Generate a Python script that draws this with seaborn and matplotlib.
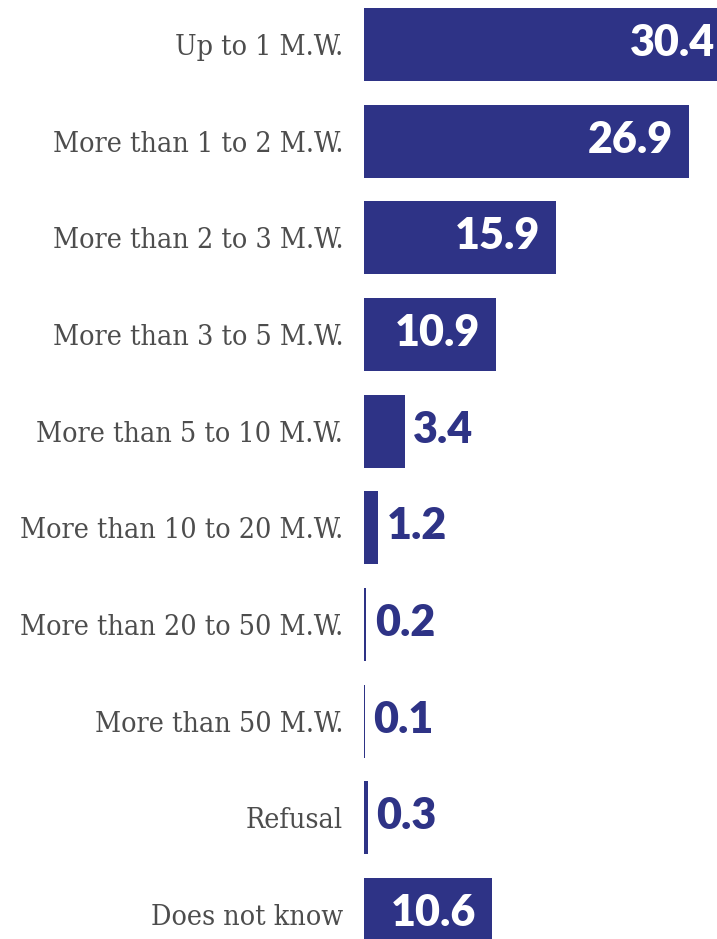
import matplotlib
matplotlib.use("Agg")
import matplotlib.pyplot as plt
import seaborn as sns
import pandas as pd

categories = ["Up to 1 M.W.", "More than 1 to 2 M.W.", "More than 2 to 3 M.W.",
              "More than 3 to 5 M.W.", "More than 5 to 10 M.W.", "More than 10 to 20 M.W.",
              "More than 20 to 50 M.W.", "More than 50 M.W.", "Refusal", "Does not know"]
values = [30.4, 26.9, 15.9, 10.9, 3.4, 1.2, 0.2, 0.1, 0.3, 10.6]
value_labels = ["30.4", "26.9", "15.9", "10.9", "3.4", "1.2", "0.2", "0.1", "0.3", "10.6"]

NAVY = "#2E3386"
GREY = "#4D4D4D"

sns.set_theme(style="white")
plt.rcParams['font.family'] = ['DejaVu Serif']

df = pd.DataFrame({"cat": categories, "val": values})

W, H = 717, 939
fig = plt.figure(figsize=(W / 100, H / 100), dpi=100)
left = 364 / W
ax = fig.add_axes([left, 0, 1 - left, 1])

sns.barplot(data=df, y="cat", x="val", orient="h", color=NAVY, width=0.755,
            saturation=1, ax=ax, edgecolor="none", linewidth=0)

px_per_unit = 12.08
ax.set_xlim(0, (W - 364) / px_per_unit)
pitch = 96.67
c0 = 44.5
ax.set_ylim((H - c0) / pitch, -c0 / pitch)

for s in ax.spines.values():
    s.set_visible(False)
ax.set_xticks([])
ax.set_xlabel("")
ax.set_ylabel("")
ax.tick_params(axis="y", length=0, pad=15)
ax.set_yticks(range(len(categories)))
ax.set_yticklabels(categories, fontsize=20.5, color=GREY, fontstretch="condensed")

for i, (v, lab) in enumerate(zip(values, value_labels)):
    if v > 5:
        ax.annotate(lab, xy=(v, i), xytext=(-11.5, 1), textcoords="offset points",
                    ha="right", va="center", color="white", fontsize=31,
                    fontweight="heavy", family="Lato", annotation_clip=False)
    else:
        ax.annotate(lab, xy=(v, i), xytext=(6, 1), textcoords="offset points",
                    ha="left", va="center", color=NAVY, fontsize=31,
                    fontweight="heavy", family="Lato", annotation_clip=False)

fig.savefig("out.png", dpi=100)
